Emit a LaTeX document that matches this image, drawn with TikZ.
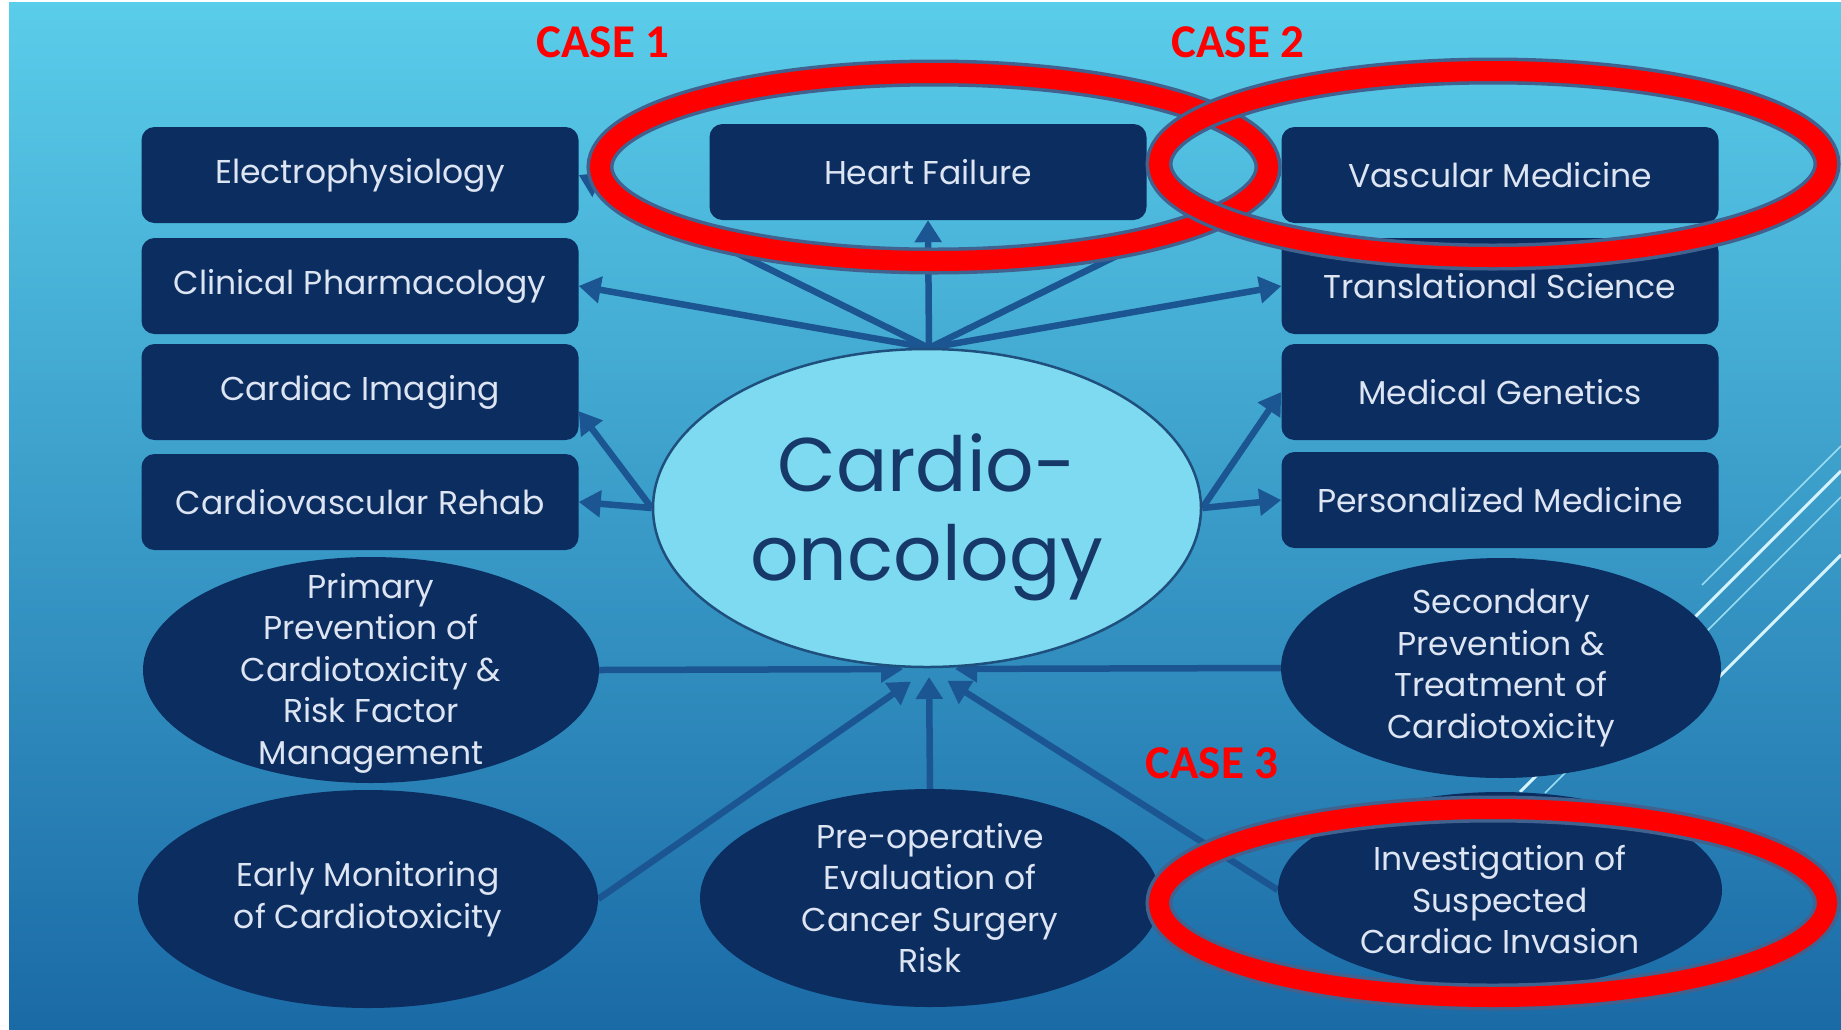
\documentclass[tikz,border=0pt]{standalone}
\usepackage{fontspec}
\setmainfont{Poppins}
\newfontfamily\casefont{Carlito}
\usetikzlibrary{shapes.geometric,arrows.meta,calc}
\pgfdeclarelayer{bg}
\pgfdeclarelayer{deco}
\pgfsetlayers{bg,deco,main}
\definecolor{navy}{HTML}{0B2D60}
\definecolor{txt}{HTML}{DDE4F2}
\definecolor{arr}{HTML}{1B5592}
\definecolor{core}{HTML}{7DDAF0}
\definecolor{coreline}{HTML}{1E4F7D}
\definecolor{coretxt}{HTML}{17396A}
\definecolor{ringedge}{HTML}{41628F}
\definecolor{bgtop}{HTML}{5ACDEA}
\definecolor{bgbot}{HTML}{1A6AA6}
\definecolor{decob}{HTML}{D6F4FC}
\definecolor{decof}{HTML}{9ADDF2}
\begin{document}
\begin{tikzpicture}[x=1pt,y=-1pt,
  box/.style={rectangle, rounded corners=13pt, fill=navy, text=txt, minimum width=437pt, minimum height=96pt, inner sep=0pt, font=\fontsize{33}{40}\selectfont},
  oval/.style={ellipse, fill=navy, inner sep=0pt},
  ovtxt/.style={text=txt, align=center, inner sep=0pt, font=\fontsize{33}{41.5}\selectfont},
  link/.style={draw=arr, line width=6.5pt, -{Triangle[length=22pt,width=26pt]}},
  ring/.style={ellipse, draw=ringedge, line width=3.5pt, double=red, double distance=20pt, minimum width=668pt, minimum height=188pt, inner sep=0pt, outer sep=0pt},
  caselbl/.style={text=red, inner sep=0pt, font=\casefont\bfseries\fontsize{47}{50}\selectfont},
  decobright/.style={draw=decob, line width=3pt},
  decofaint/.style={draw=decof, line width=1.5pt}]

\useasboundingbox (0,0) rectangle (1841,1029);

% boxes
\node[box] (ep) at (360,175) {Electrophysiology};
\node[box] (cp) at (360,286) {Clinical Pharmacology};
\node[box] (ci) at (360,392) {Cardiac Imaging};
\node[box] (cr) at (360,502) {Cardiovascular Rehab};
\node[box] (hf) at (928,172) {Heart Failure};
\node[box] (vm) at (1500,175) {Vascular Medicine};
\node[box] (ts) at (1500,286) {Translational Science};
\node[box] (mg) at (1500,392) {Medical Genetics};
\node[box] (pm) at (1500,500) {Personalized Medicine};

% ellipses
\node[oval, minimum width=456pt, minimum height=226pt] (pp) at (371,670) {};
\node[ovtxt] (ppt) at (371,673) {Primary\\Prevention of\\Cardiotoxicity \&\\Risk Factor\\Management};
\node[oval, minimum width=460pt, minimum height=218pt] (em) at (368,899) {};
\node[ovtxt] (emt) at (em) {Early Monitoring\\of Cardiotoxicity};
\node[oval, minimum width=460pt, minimum height=218pt] (po) at (930,898) {};
\node[ovtxt] (pot) at (po) {Pre-operative\\Evaluation of\\Cancer Surgery\\Risk};
\node[oval, minimum width=440pt, minimum height=220pt] (sp) at (1501,668) {};
\node[ovtxt] (spt) at (sp) {Secondary\\Prevention \&\\Treatment of\\Cardiotoxicity};
\node[oval, minimum width=444pt, minimum height=196pt] (iv) at (1500,890) {};
\node[ovtxt] (ivt) at (1500,900) {Investigation of\\Suspected\\Cardiac Invasion};

% centre
\node[ellipse, fill=core, draw=coreline, line width=2.5pt, minimum width=548pt, minimum height=318pt, inner sep=0pt] (co) at (927,508) {};
\node[text=coretxt, align=center, inner sep=0pt, font=\fontsize{76}{89}\selectfont] (cot) at (927,517) {Cardio-\\oncology};

\coordinate (ht) at (929,348);
\coordinate (hb) at (929,669);

\begin{pgfonlayer}{bg}
\fill[white] (0,0) rectangle (1841,1029);
\shade[top color=bgtop, bottom color=bgbot] (9,2) rectangle (1841,1029);
\end{pgfonlayer}

\begin{pgfonlayer}{deco}
\coordinate (la) at (1702,585); \coordinate (lb) at (1841,446);
\coordinate (ma) at (1520,792); \coordinate (mb) at (1841,471);
\coordinate (na) at (1545,793); \coordinate (nb) at (1841,497);
\coordinate (oa) at (1718,678); \coordinate (ob) at (1841,555);
\draw[decofaint] (la) -- (lb);
\draw[decobright] (ma) -- (mb);
\draw[decofaint] (na) -- (nb);
\draw[decobright] (oa) -- (ob);

\draw[link] (ht) -- (hf.south);
\draw[link] (ht) -- (ep.east);
\draw[link] (ht) -- (cp.east);
\draw[link] (ht) -- (vm.west);
\draw[link] (ht) -- (ts.west);
\draw[link] (co.west) -- (ci.-5);
\draw[link] (co.west) -- (cr.east);
\draw[link] (co.east) -- (mg.west);
\draw[link] (co.east) -- (pm.west);
\draw[link, shorten >=26pt] (pp.east) -- (hb);
\draw[link, shorten >=26pt] (sp.west) -- (hb);
\draw[link, shorten >=22pt] (em.east) -- (hb);
\draw[link, shorten >=8pt] (po.north) -- (hb);
\draw[link, shorten >=22pt] (iv.west) -- (hb);
\end{pgfonlayer}

% annotation rings
\node[ring] (r1) at (934,167) {};
\node[ring, minimum height=186pt] (r2) at (1493,164) {};
\node[ring] (r3) at (1493,903) {};

\node[caselbl] (c1) at (603,42) {CASE 1};
\node[caselbl] (c2) at (1238,42) {CASE 2};
\node[caselbl] (c3) at (1212,763) {CASE 3};
\end{tikzpicture}
\end{document}
